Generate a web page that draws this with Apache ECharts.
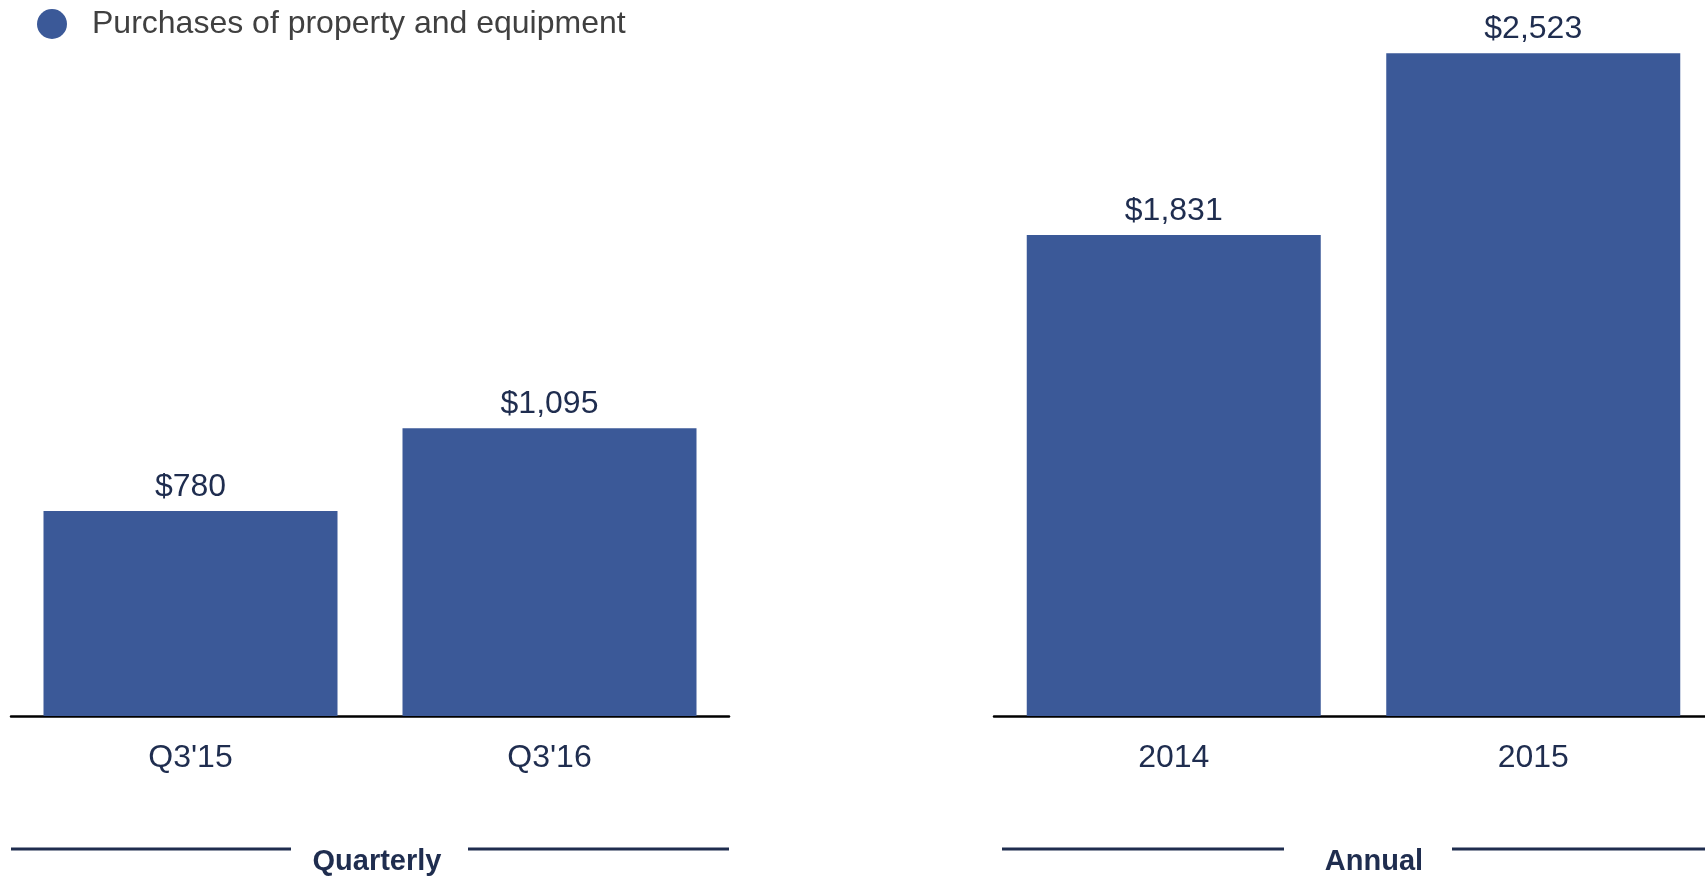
<!DOCTYPE html>
<html>
<head>
<meta charset="utf-8">
<script src="https://cdn.jsdelivr.net/npm/echarts@6/dist/echarts.min.js"></script>
<style>
html,body{margin:0;padding:0;background:#fff;}
#chart{width:1705px;height:876px;}
</style>
</head>
<body>
<div id="chart"></div>
<script>
const seriesName = 'Purchases of property and equipment';
const quarterlyCategories = ["Q3'15", "Q3'16"];
const quarterlyValues = [780, 1095];
const annualCategories = ['2014', '2015'];
const annualValues = [1831, 2523];
const groupTitles = ['Quarterly', 'Annual'];

const FONT = '"Liberation Sans", Arial, Helvetica, sans-serif';
const BAR = '#3b5998';
const NAVY = '#1f2d4f';

const chart = echarts.init(document.getElementById('chart'));

function xAxis(gridIndex, data) {
  return {
    type: 'category', gridIndex, data,
    axisLine: { show: true, lineStyle: { color: '#000', width: 2.5 } },
    axisTick: { show: false },
    axisLabel: { color: NAVY, fontSize: 32, fontFamily: FONT, margin: 26 }
  };
}
function yAxis(gridIndex) {
  return {
    type: 'value', gridIndex, min: 0, max: 2600,
    show: false, splitLine: { show: false }
  };
}
function barSeries(idx, values) {
  return {
    type: 'bar', name: seriesName, xAxisIndex: idx, yAxisIndex: idx,
    data: values, barWidth: 294,
    itemStyle: { color: BAR },
    label: {
      show: true, position: 'top', distance: 8,
      color: NAVY, fontSize: 32, fontFamily: FONT,
      formatter: p => '$' + p.value.toLocaleString('en-US')
    }
  };
}

const lineStyle = { stroke: NAVY, lineWidth: 3 };

chart.setOption({
  animation: false,
  backgroundColor: '#fff',
  legend: {
    show: true, left: 32, top: 3,
    icon: 'circle', itemWidth: 30, itemHeight: 30,
    data: [seriesName],
    textStyle: { color: '#404040', fontSize: 32, fontFamily: FONT, padding: [0, 0, 0, 20] }
  },
  grid: [
    { left: 11, width: 718, top: 33, bottom: 160, containLabel: false, outerBoundsMode: 'none' },
    { left: 994, width: 719, top: 33, bottom: 160, containLabel: false, outerBoundsMode: 'none' }
  ],
  xAxis: [xAxis(0, quarterlyCategories), xAxis(1, annualCategories)],
  yAxis: [yAxis(0), yAxis(1)],
  series: [barSeries(0, quarterlyValues), barSeries(1, annualValues)],
  title: [
    { text: groupTitles[0], left: 372, top: 842, textAlign: 'center',
      textStyle: { color: NAVY, fontSize: 29, fontWeight: 'bold', fontFamily: FONT } },
    { text: groupTitles[1], left: 1369, top: 842, textAlign: 'center',
      textStyle: { color: NAVY, fontSize: 29, fontWeight: 'bold', fontFamily: FONT } }
  ],
  graphic: [
    { type: 'line', shape: { x1: 11, y1: 849, x2: 291, y2: 849 }, style: lineStyle },
    { type: 'line', shape: { x1: 468, y1: 849, x2: 729, y2: 849 }, style: lineStyle },
    { type: 'line', shape: { x1: 1002, y1: 849, x2: 1284, y2: 849 }, style: lineStyle },
    { type: 'line', shape: { x1: 1452, y1: 849, x2: 1705, y2: 849 }, style: lineStyle }
  ]
});
</script>
</body>
</html>
